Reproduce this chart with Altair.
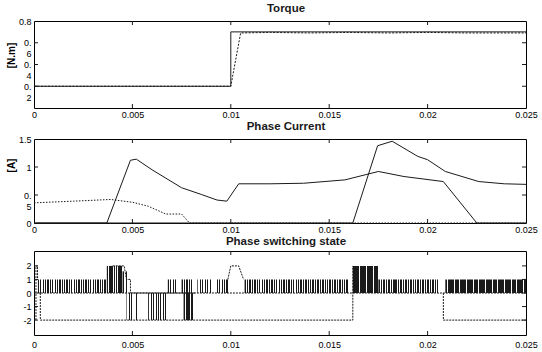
import altair as alt
import pandas as pd

# ---------------- data ----------------
x_ticks = [0.005, 0.01, 0.015, 0.02]
x_labels = [0, 0.005, 0.01, 0.015, 0.02, 0.025]

# Torque [N.m]
torque_ref_t = [0, 0.01, 0.01, 0.025]
torque_ref_v = [0.2, 0.2, 0.7, 0.7]
torque_meas_t = [0, 0.01, 0.0105, 0.012, 0.014, 0.016, 0.018, 0.02, 0.022, 0.025]
torque_meas_v = [0.2, 0.2, 0.69, 0.695, 0.69, 0.695, 0.69, 0.695, 0.69, 0.69]
torque_yticks = [0.2, 0.4, 0.6]

# Phase current [A]
ia_t = [0, 0.002, 0.0039, 0.005, 0.0058, 0.0067, 0.0075, 0.0079, 0.025]
ia_v = [0.36, 0.39, 0.42, 0.37, 0.30, 0.16, 0.16, 0.0, 0.0]
ib_t = [0, 0.0037, 0.0049, 0.0052, 0.006, 0.0075, 0.0085, 0.0093, 0.0098,
        0.0104, 0.012, 0.0137, 0.0158, 0.0175, 0.0188, 0.0208, 0.0225, 0.025]
ib_v = [0, 0, 1.12, 1.14, 0.95, 0.63, 0.51, 0.41, 0.39,
        0.70, 0.70, 0.71, 0.77, 0.92, 0.83, 0.74, 0.0, 0.0]
ic_t = [0, 0.0162, 0.01746, 0.0182, 0.0195, 0.0200, 0.0209, 0.0226, 0.0239, 0.025]
ic_v = [0, 0, 1.38, 1.46, 1.19, 1.13, 0.92, 0.74, 0.70, 0.69]
current_yticks = [0.5, 1.0]

# Phase switching state: step lines
st_lines = {
    "s0": ([0.0001, 0.0001, 0.00018, 0.00018], [-2, 2, 2, 1]),
    "s1": ([0.00032, 0.00032, 0.0162, 0.0162], [0, -2, -2, 2]),
    "s2": ([0.0208, 0.0208, 0.025], [0, -2, -2]),
    "s3": ([0.0040, 0.00458, 0.0047, 0.0049, 0.0049, 0.0082], [2, 2, 1, 1, 0, 0]),
    "s4": ([0.00985, 0.0100, 0.0104, 0.01065], [1, 2, 2, 1]),
    "s5": ([0.0002, 0.025], [0, 0]),
}
# Phase switching state: PWM chopping bands (start, end, low, high, density)
pwm_t0 = [0.0002, 0.0037, 0.0045, 0.0047, 0.0058, 0.0076, 0.0068, 0.0075, 0.0083,
          0.0093, 0.0107, 0.0162, 0.0175, 0.0209]
pwm_t1 = [0.0037, 0.0045, 0.0048, 0.0053, 0.0068, 0.0081, 0.0073, 0.0081, 0.0092,
          0.0099, 0.0160, 0.0175, 0.0206, 0.0250]
pwm_lo = [0, 0, 0, -2, -2, -2, 0, 0, 0, 0, 0, 0, 0, 0]
pwm_hi = [1, 2, 1.6, 0, 0, 0, 1, 1, 1, 1, 1, 2, 1, 1]
pwm_d = [0.5, 0.65, 0.35, 0.3, 0.4, 0.75, 0.35, 0.5, 0.3, 0.45, 0.55, 0.85, 0.6, 0.85]
state_yticks = [-2, -1, 0, 1, 2]

# ---------------- helpers ----------------
W = 492
FONT = "Liberation Sans"
INK = "#1a1a1a"

xs = alt.Scale(domain=[0, 0.025], nice=False, zero=False)
xaxis = alt.Axis(values=x_labels, format="~g", ticks=False, domain=False, grid=False,
                 labelPadding=2, title=None, labelFlush=False)
xaxis3 = alt.Axis(values=x_labels, format="~g", ticks=False, domain=False, grid=False,
                  labelPadding=5, title=None, labelFlush=False)


def df(ts, vs):
    return pd.DataFrame({"t": ts, "v": vs, "o": list(range(len(ts)))})


def line(ts, vs, ysc, yax, dash=None, xax=xaxis):
    kw = dict(strokeWidth=1, color=INK)
    if dash:
        kw["strokeDash"] = dash
    return alt.Chart(df(ts, vs)).mark_line(**kw).encode(
        x=alt.X("t:Q", scale=xs, axis=xax),
        y=alt.Y("v:Q", scale=ysc, axis=yax),
        order="o:Q",
    )


def tick_layers(H, ys, ysc, yaxis, xax=xaxis):
    xt = pd.DataFrame({"t": x_ticks})
    yt = pd.DataFrame({"v": ys})
    X = alt.X("t:Q", scale=xs, axis=xax)
    Y = alt.Y("v:Q", scale=ysc, axis=yaxis)
    r = dict(color=INK, strokeWidth=1)
    bot = alt.Chart(xt).mark_rule(**r).encode(x=X, y=alt.value(H), y2=alt.value(H - 4))
    top = alt.Chart(xt).mark_rule(**r).encode(x=X, y=alt.value(0), y2=alt.value(4))
    lef = alt.Chart(yt).mark_rule(**r).encode(y=Y, x=alt.value(0), x2=alt.value(4))
    rig = alt.Chart(yt).mark_rule(**r).encode(y=Y, x=alt.value(W), x2=alt.value(W - 4))
    return [bot, top, lef, rig]


def title(txt):
    return alt.TitleParams(txt, fontSize=11.5, fontWeight="bold", font=FONT,
                           offset=3, anchor="middle", dx=6, color=INK)


# ---------------- panel 1: torque ----------------
H1 = 87
ys1 = alt.Scale(domain=[0, 0.8], nice=False, zero=False)
yax1 = alt.Axis(values=[0.2, 0.4, 0.6, 0.8], ticks=False, domain=False, grid=False,
                labelPadding=3, title="[N.m]", titleFontSize=10, titleFontWeight="bold",
                titlePadding=2, titleY=34,
                labelExpr="datum.value > 0.7 ? '0.8' : datum.value > 0.5 ? ['0.', '6'] : datum.value > 0.3 ? ['0.', '4'] : ['0.', '2']")
p1 = alt.layer(
    line(torque_ref_t, torque_ref_v, ys1, yax1),
    line(torque_meas_t, torque_meas_v, ys1, yax1, dash=[2, 1.5]),
    *tick_layers(H1, torque_yticks, ys1, yax1),
).properties(width=W, height=H1, title=title("Torque"))

# ---------------- panel 2: phase current ----------------
H2 = 84
ys2 = alt.Scale(domain=[0, 1.5], nice=False, zero=False)
yax2 = alt.Axis(values=[0, 0.5, 1, 1.5], ticks=False, domain=False, grid=False,
                labelPadding=3, title="[A]", titleFontSize=10, titleFontWeight="bold",
                titlePadding=2, titleY=26,
                labelExpr="datum.value == 0.5 ? ['0.', '5'] : datum.value == 1.5 ? '1.5' : datum.value == 1 ? '1' : '0'")
p2 = alt.layer(
    line(ia_t, ia_v, ys2, yax2, dash=[1.5, 1.5]),
    line(ib_t, ib_v, ys2, yax2),
    line(ic_t, ic_v, ys2, yax2),
    *tick_layers(H2, current_yticks, ys2, yax2),
).properties(width=W, height=H2, title=title("Phase Current"))

# ---------------- panel 3: switching state ----------------
H3 = 84
ys3 = alt.Scale(domain=[-3.1, 3.1], nice=False, zero=False)
yax3 = alt.Axis(values=state_yticks, ticks=False, domain=False, grid=False,
                labelPadding=3, title=None, labelExpr="'' + datum.value")

band_layers = []
px_per_t = W / 0.025
for i in range(len(pwm_t0)):
    wpx = (pwm_t1[i] - pwm_t0[i]) * px_per_t
    n = max(2, int(round(wpx / 2.4)))
    d = pwm_d[i]
    stops = []
    for k in range(n):
        a, b, c = k / n, (k + d) / n, (k + 1) / n
        stops += [alt.GradientStop(offset=a, color=INK), alt.GradientStop(offset=b, color=INK),
                  alt.GradientStop(offset=b, color="rgba(255,255,255,0)"),
                  alt.GradientStop(offset=c, color="rgba(255,255,255,0)")]
    grad = alt.LinearGradient(gradient="linear", stops=stops, x1=0, x2=1, y1=0, y2=0)
    one = pd.DataFrame({"t0": [pwm_t0[i]], "t1": [pwm_t1[i]], "lo": [pwm_lo[i]], "hi": [pwm_hi[i]]})
    band_layers.append(
        alt.Chart(one).mark_rect(fill=grad).encode(
            x=alt.X("t0:Q", scale=xs, axis=xaxis3),
            x2="t1:Q",
            y=alt.Y("lo:Q", scale=ys3, axis=yax3),
            y2="hi:Q",
        )
    )
state_line_layers = [line(ts, vs, ys3, yax3, dash=[2, 1], xax=xaxis3) for ts, vs in st_lines.values()]
p3 = alt.layer(*band_layers, *state_line_layers,
               *tick_layers(H3, state_yticks, ys3, yax3, xax=xaxis3)).properties(
    width=W, height=H3, title=title("Phase switching state"))

chart = alt.vconcat(p1, p2, p3, spacing=0).properties(
    padding={"left": 5, "top": 2, "right": 3, "bottom": 0},
    background="white",
).configure_view(stroke="black", strokeWidth=1).configure_axis(
    labelFont=FONT, labelFontSize=9, labelColor="black", titleFont=FONT, titleColor="black"
)

chart.save("out.html", embed_options={"renderer": "svg", "actions": False})
